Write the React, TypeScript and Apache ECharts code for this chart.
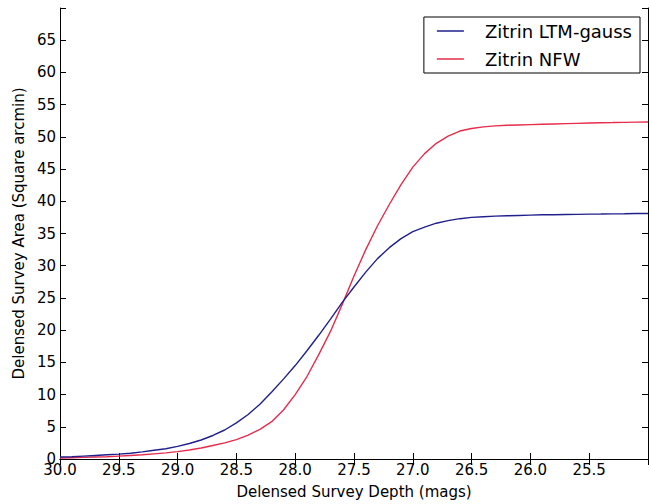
import React, { useEffect, useRef } from "react";
import * as echarts from "echarts";

const depths = [
  30.0, 29.9, 29.8, 29.7, 29.6, 29.5, 29.4, 29.3, 29.2, 29.1,
  29.0, 28.9, 28.8, 28.7, 28.6, 28.5, 28.4, 28.3, 28.2, 28.1,
  28.0, 27.9, 27.8, 27.7, 27.6, 27.5, 27.4, 27.3, 27.2, 27.1,
  27.0, 26.9, 26.8, 26.7, 26.6, 26.5, 26.4, 26.3, 26.2, 26.1,
  26.0, 25.9, 25.8, 25.7, 25.6, 25.5, 25.4, 25.3, 25.2, 25.1, 25.0,
];

const ltmGauss = [
  0.3, 0.35, 0.45, 0.55, 0.65, 0.75, 0.9, 1.1, 1.35, 1.6,
  1.95, 2.4, 2.95, 3.65, 4.5, 5.6, 6.9, 8.5, 10.4, 12.4,
  14.5, 16.8, 19.2, 21.7, 24.3, 26.7, 29.0, 31.1, 32.8, 34.2,
  35.3, 36.0, 36.6, 37.0, 37.3, 37.5, 37.6, 37.7, 37.75, 37.8,
  37.85, 37.9, 37.92, 37.95, 37.97, 38.0, 38.02, 38.05, 38.07, 38.1, 38.1,
];

const nfw = [
  0.15, 0.2, 0.25, 0.3, 0.35, 0.45, 0.55, 0.65, 0.8, 0.95,
  1.15, 1.4, 1.7, 2.1, 2.5, 3.0, 3.7, 4.6, 5.8, 7.6,
  10.0, 12.8, 16.2, 19.8, 24.0, 28.4, 32.5, 36.2, 39.5, 42.6,
  45.3, 47.4, 49.0, 50.1, 50.9, 51.3, 51.55, 51.7, 51.8, 51.85,
  51.9, 51.95, 52.0, 52.05, 52.1, 52.15, 52.2, 52.22, 52.25, 52.28, 52.3,
];

const seriesNames = ["Zitrin LTM-gauss", "Zitrin NFW"];
const seriesColors = ["#20208c", "#e62c4b"];

const FONT = "DejaVu Sans";

export default function App() {
  const ref = useRef<HTMLDivElement>(null);
  useEffect(() => {
    if (!ref.current) return;
    const chart = echarts.init(ref.current, undefined, { renderer: "svg" });
    const axisLine = { show: true, lineStyle: { color: "#000", width: 1 } };
    const tickInside = { show: true, inside: true, length: 6, lineStyle: { color: "#000" } };
    chart.setOption({
      animation: false,
      backgroundColor: "#fff",
      textStyle: { fontFamily: FONT },
      grid: { left: 60, right: 1, top: 8, bottom: 41, containLabel: false },
      legend: {
        orient: "vertical",
        right: 11,
        top: 17,
        data: seriesNames,
        icon: "rect",
        borderColor: "#000",
        borderWidth: 1,
        borderRadius: 0,
        padding: [5, 8, 5, 13],
        itemWidth: 27,
        itemHeight: 1.5,
        itemGap: 10,
        textStyle: {
          fontFamily: FONT,
          fontSize: 18,
          color: "#000",
          lineHeight: 18,
          padding: [0, 0, 0, 16],
        },
      },
      xAxis: [
        {
          type: "value",
          inverse: true,
          min: 25,
          max: 30,
          interval: 0.5,
          name: "Delensed Survey Depth (mags)",
          nameLocation: "middle",
          nameGap: 25,
          nameTextStyle: { fontFamily: FONT, fontSize: 15, color: "#000" },
          axisLine,
          axisTick: tickInside,
          splitLine: { show: false },
          axisLabel: {
            fontFamily: FONT,
            fontSize: 15,
            color: "#000",
            margin: 3,
            formatter: (v: number) => (v === 25 ? "" : v.toFixed(1)),
          },
        },
        {
          type: "value",
          inverse: true,
          min: 25,
          max: 30,
          interval: 0.5,
          position: "top",
          axisLine,
          axisTick: tickInside,
          axisLabel: { show: false },
          splitLine: { show: false },
        },
      ],
      yAxis: [
        {
          type: "value",
          min: 0,
          max: 70,
          interval: 5,
          name: "Delensed Survey Area (Square arcmin)",
          nameLocation: "middle",
          nameRotate: 90,
          nameGap: 33,
          nameTextStyle: { fontFamily: FONT, fontSize: 15, color: "#000" },
          axisLine,
          axisTick: tickInside,
          splitLine: { show: false },
          axisLabel: {
            fontFamily: FONT,
            fontSize: 15,
            color: "#000",
            margin: 4,
            formatter: (v: number) => (v === 70 ? "" : String(v)),
          },
        },
        {
          type: "value",
          min: 0,
          max: 70,
          interval: 5,
          position: "right",
          axisLine,
          axisTick: tickInside,
          axisLabel: { show: false },
          splitLine: { show: false },
        },
      ],
      series: [
        {
          name: seriesNames[0],
          type: "line",
          data: depths.map((d, i) => [d, ltmGauss[i]]),
          symbol: "none",
          showSymbol: false,
          color: seriesColors[0],
          lineStyle: { color: seriesColors[0], width: 1.4 },
          z: 3,
        },
        {
          name: seriesNames[1],
          type: "line",
          data: depths.map((d, i) => [d, nfw[i]]),
          symbol: "none",
          showSymbol: false,
          color: seriesColors[1],
          lineStyle: { color: seriesColors[1], width: 1.4 },
          z: 2,
        },
      ],
    });
    return () => chart.dispose();
  }, []);
  return (
    <div
      ref={ref}
      style={{ position: "fixed", left: 0, top: 0, width: 651, height: 504 }}
    />
  );
}
